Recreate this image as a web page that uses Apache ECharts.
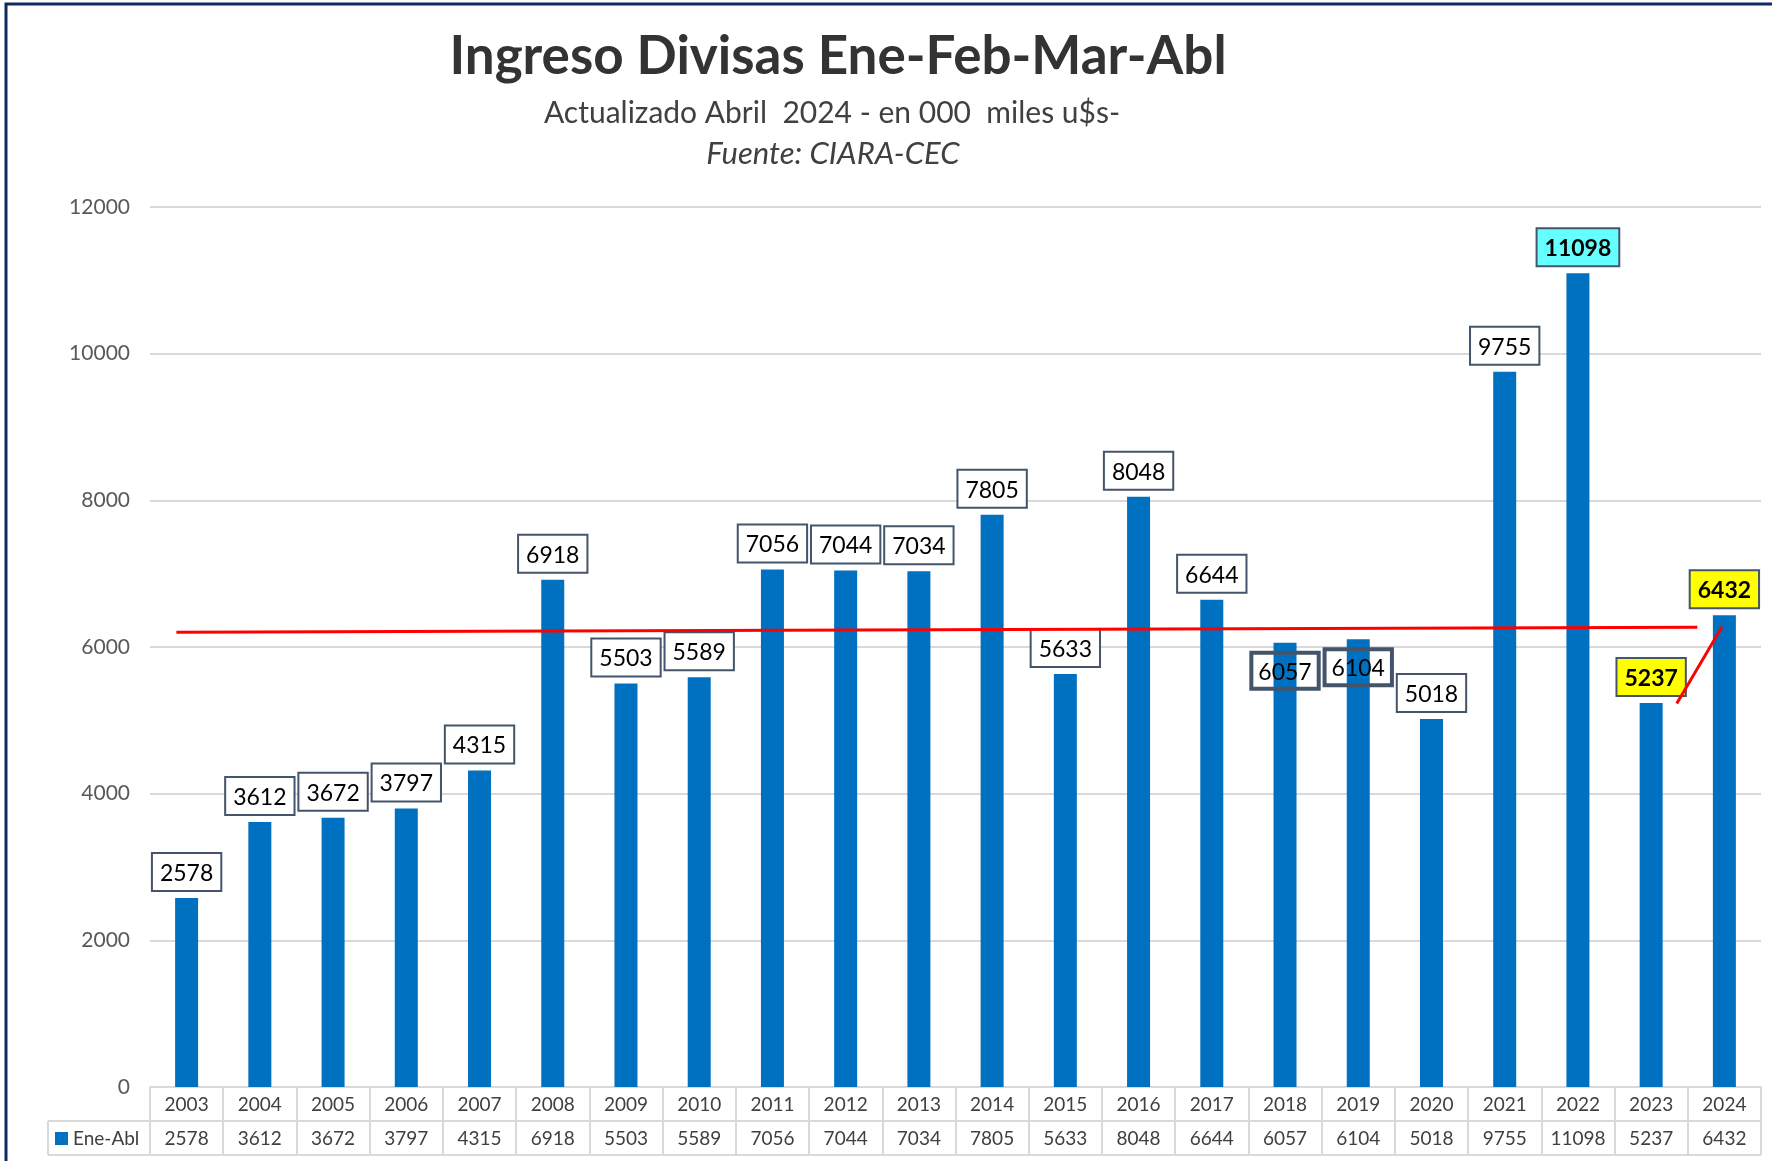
<!DOCTYPE html>
<html>
<head>
<meta charset="utf-8">
<title>Ingreso Divisas Ene-Feb-Mar-Abl</title>
<script src="https://cdn.jsdelivr.net/npm/echarts@6/dist/echarts.min.js"></script>
<style>
  html, body { margin: 0; padding: 0; background: #fff; }
  #chart { width: 1772px; height: 1161px; }
</style>
</head>
<body>
<div id="chart"></div>
<script>
  // años y valores (miles u$s)
  const years = ['2003', '2004', '2005', '2006', '2007', '2008', '2009', '2010', '2011', '2012', '2013',
    '2014', '2015', '2016', '2017', '2018', '2019', '2020', '2021', '2022', '2023', '2024']
  const values = [2578, 3612, 3672, 3797, 4315, 6918, 5503, 5589, 7056, 7044, 7034,
    7805, 5633, 8048, 6644, 6057, 6104, 5018, 9755, 11098, 5237, 6432]
  const yMin = 0
  const yMax = 12000
  const yStep = 2000

  // lineas rojas dibujadas a mano (x = indice de categoria)
  const avgLine = [[-0.14, 6200], [20.63, 6270]]
  const riseLine = [[20.35, 5230], [20.97, 6280]]

  // etiquetas resaltadas
  const cyanYears = ['2022']
  const yellowYears = ['2023', '2024']
  const insideYears = ['2018', '2019']

  const FONT = 'Lato, "Open Sans", sans-serif'
  const GRID_LEFT = 150
  const GRID_RIGHT = 11
  const GRID_TOP = 207
  const GRID_BOTTOM = 74
  const ROW_H = 34
  const W = 1772
  const H = 1161
  const axisY = H - GRID_BOTTOM
  const tableRight = W - GRID_RIGHT
  const tableLeft = 48
  const lineGray = '#d9d9d9'

  const barData = values.map((v, i) => {
    const year = years[i]
    const item = { value: v }
    if (cyanYears.includes(year)) {
      item.label = { backgroundColor: '#66ffff', fontWeight: 'bold' }
    } else if (yellowYears.includes(year)) {
      item.label = { backgroundColor: '#ffff00', fontWeight: 'bold' }
    } else if (insideYears.includes(year)) {
      item.label = { position: 'insideTop', distance: 10, backgroundColor: 'transparent' }
    }
    return item
  })

  const chart = echarts.init(document.getElementById('chart'))
  chart.setOption({
    backgroundColor: '#fff',
    animation: false,
    textStyle: { fontFamily: FONT },
    grid: {
      left: GRID_LEFT,
      right: GRID_RIGHT,
      top: GRID_TOP,
      bottom: GRID_BOTTOM,
      outerBoundsMode: 'none'
    },
    legend: {
      data: ['Ene-Abl'],
      left: 55,
      top: 1129,
      padding: 0,
      icon: 'rect',
      itemWidth: 13,
      itemHeight: 13,
      textStyle: { fontFamily: FONT, fontSize: 19, color: '#404040' }
    },
    xAxis: [{
      type: 'category',
      data: years,
      axisLine: { lineStyle: { color: lineGray, width: 2 } },
      axisTick: { show: true, interval: 0, length: ROW_H * 2, lineStyle: { color: lineGray, width: 2 } },
      axisLabel: {
        interval: 0,
        margin: 1,
        formatter: (val, idx) => '{y|' + val + '}\n{v|' + values[idx] + '}',
        rich: {
          y: { fontFamily: FONT, fontSize: 19, lineHeight: ROW_H, color: '#404040' },
          v: { fontFamily: FONT, fontSize: 19, lineHeight: ROW_H, color: '#404040' }
        }
      }
    }, {
      type: 'value',
      min: -0.5,
      max: years.length - 0.5,
      show: false
    }],
    yAxis: {
      type: 'value',
      min: yMin,
      max: yMax,
      interval: yStep,
      axisLine: { show: false },
      axisTick: { show: false },
      axisLabel: { margin: 20, fontFamily: FONT, fontSize: 21, color: '#595959', formatter: v => String(v) },
      splitLine: { lineStyle: { color: lineGray, width: 2 } }
    },
    series: [{
      name: 'Ene-Abl',
      type: 'bar',
      barWidth: 23,
      itemStyle: { color: '#0070c0' },
      label: {
        show: true,
        position: 'top',
        distance: 8,
        fontFamily: FONT,
        fontSize: 23,
        color: '#000',
        backgroundColor: '#fff',
        borderColor: '#44546a',
        borderWidth: 2,
        padding: [8, 7, 5, 7]
      },
      data: barData
    }, {
      name: 'promedio',
      type: 'line',
      xAxisIndex: 1,
      symbol: 'none',
      silent: true,
      lineStyle: { color: '#ff0000', width: 3 },
      data: avgLine,
      z: 5
    }, {
      name: 'suba',
      type: 'line',
      xAxisIndex: 1,
      symbol: 'none',
      silent: true,
      lineStyle: { color: '#ff0000', width: 3 },
      data: riseLine,
      z: 5
    }],
    graphic: [
      // marco
      { type: 'rect', shape: { x: 6, y: 4, width: W + 20, height: H + 20 }, style: { fill: 'none', stroke: '#0e2a63', lineWidth: 3 } },
      // titulos
      { type: 'text', x: 838, y: 57, style: { text: 'Ingreso Divisas Ene-Feb-Mar-Abl', font: 'bold 53px ' + FONT, fill: '#333', align: 'center', verticalAlign: 'middle' } },
      { type: 'text', x: 832, y: 113, style: { text: 'Actualizado Abril  2024 - en 000  miles u$s-', font: '30px ' + FONT, fill: '#404040', align: 'center', verticalAlign: 'middle' } },
      { type: 'text', x: 833, y: 154, style: { text: 'Fuente: CIARA-CEC', font: 'italic 31px ' + FONT, fill: '#404040', align: 'center', verticalAlign: 'middle' } },
      // tabla de datos
      { type: 'line', shape: { x1: tableLeft, y1: axisY + ROW_H, x2: tableRight, y2: axisY + ROW_H }, style: { stroke: lineGray, lineWidth: 2 } },
      { type: 'line', shape: { x1: tableLeft, y1: axisY + ROW_H * 2, x2: tableRight, y2: axisY + ROW_H * 2 }, style: { stroke: lineGray, lineWidth: 2 } },
      { type: 'line', shape: { x1: tableLeft, y1: axisY + ROW_H, x2: tableLeft, y2: axisY + ROW_H * 2 }, style: { stroke: lineGray, lineWidth: 2 } }
    ]
  })
</script>
</body>
</html>
